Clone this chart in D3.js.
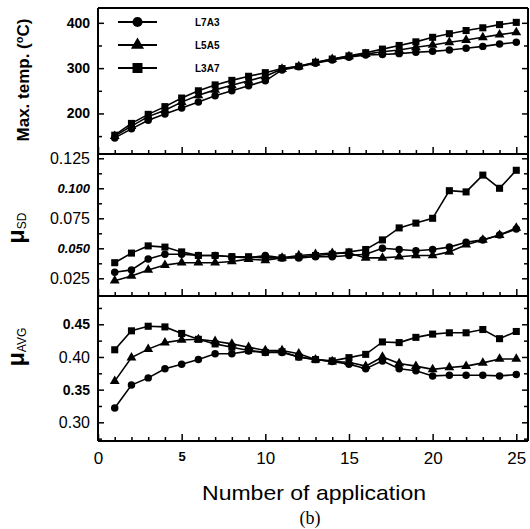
<!DOCTYPE html>
<html><head><meta charset="utf-8">
<script src="https://cdn.jsdelivr.net/npm/d3@7/dist/d3.min.js"></script>
<style>
html,body{margin:0;padding:0;background:#fff;}
svg{display:block;}
text{font-family:"Liberation Sans",Arial,sans-serif;fill:#000;}
</style></head>
<body>
<script>
// ---------- data ----------
const applications = [1,2,3,4,5,6,7,8,9,10,11,12,13,14,15,16,17,18,19,20,21,22,23,24,25];
const seriesNames = ["L7A3","L5A5","L3A7"];

const tempL7A3 = [146,166,185,199,212,225,239,250,261,272,296,303,311,318,324,329,330,332,335,337,340,344,348,353,357];
const tempL5A5 = [150,172,193,207,225,240,252,262,272,282,298,304,312,320,326,331,336,340,346,351,357,362,368,374,379];
const tempL3A7 = [152,178,198,215,234,250,263,273,282,290,299,304,313,320,327,334,342,350,358,368,376,383,389,396,401];

const sdL7A3 = [0.030,0.032,0.041,0.045,0.045,0.044,0.044,0.043,0.042,0.044,0.042,0.042,0.043,0.043,0.044,0.045,0.050,0.049,0.048,0.049,0.051,0.055,0.057,0.061,0.066];
const sdL5A5 = [0.023,0.027,0.032,0.036,0.038,0.038,0.038,0.039,0.041,0.040,0.042,0.044,0.045,0.046,0.046,0.042,0.042,0.043,0.044,0.044,0.047,0.053,0.057,0.061,0.067];
const sdL3A7 = [0.038,0.046,0.052,0.051,0.047,0.044,0.044,0.043,0.043,0.042,0.042,0.043,0.044,0.045,0.047,0.049,0.057,0.067,0.071,0.075,0.098,0.097,0.111,0.100,0.115];

const avgL7A3 = [0.322,0.357,0.368,0.382,0.389,0.396,0.405,0.405,0.409,0.407,0.407,0.400,0.396,0.393,0.389,0.382,0.394,0.382,0.379,0.371,0.372,0.372,0.372,0.371,0.373];
const avgL5A5 = [0.363,0.399,0.412,0.422,0.426,0.427,0.424,0.420,0.415,0.410,0.410,0.405,0.396,0.393,0.392,0.386,0.400,0.390,0.386,0.381,0.384,0.386,0.391,0.397,0.397];
const avgL3A7 = [0.411,0.440,0.447,0.446,0.436,0.427,0.420,0.415,0.410,0.407,0.408,0.400,0.396,0.394,0.399,0.404,0.423,0.422,0.430,0.435,0.437,0.437,0.442,0.428,0.439];

const xMajorTicks = [0,5,10,15,20,25];
const xTickLabels = ["0","5","10","15","20","25"];
const xMinorTicks = [1,2,3,4,6,7,8,9,11,12,13,14,16,17,18,19,21,22,23,24];

const tempTicks = [200,300,400];
const tempMinor = [150,250,350];
const sdTicks = [0.025,0.050,0.075,0.100,0.125];
const sdTickLabels = ["0.025","0.050","0.075","0.100","0.125"];
const sdMinor = [0.0375,0.0625,0.0875,0.1125];
const avgTicks = [0.30,0.35,0.40,0.45];
const avgTickLabels = ["0.30","0.35","0.40","0.45"];
const avgMinor = [0.275,0.325,0.375,0.425,0.475];

// ---------- layout ----------
const W = 530, H = 529;
const left = 98, right = 528;
const svg = d3.select("body").append("svg").attr("width", W).attr("height", H);
svg.append("rect").attr("width", W).attr("height", H).attr("fill", "#fff");

const x = d3.scaleLinear().domain([0, 25.7]).range([left, right]);

const panels = [
  {top: 8, bottom: 154, domain: [110.5, 432.7], series: [tempL7A3, tempL5A5, tempL3A7],
   ticks: tempTicks, labels: tempTicks.map(String), minor: tempMinor,
   lstyle: [{s:14,w:"bold",i:false},{s:14,w:"bold",i:false},{s:14,w:"bold",i:false}]},
  {top: 154, bottom: 296, domain: [0.01025, 0.12858], series: [sdL7A3, sdL5A5, sdL3A7],
   ticks: sdTicks, labels: sdTickLabels, minor: sdMinor,
   lstyle: [{s:16,w:"normal",i:false},{s:13,w:"bold",i:true},{s:16,w:"normal",i:false},{s:13,w:"bold",i:true},{s:16,w:"normal",i:false}]},
  {top: 296, bottom: 441, domain: [0.2714, 0.4933], series: [avgL7A3, avgL5A5, avgL3A7],
   ticks: avgTicks, labels: avgTickLabels, minor: avgMinor,
   lstyle: [{s:16,w:"normal",i:false},{s:14,w:"bold",i:false},{s:16,w:"normal",i:false},{s:14,w:"bold",i:false}]}
];

const symbols = [d3.symbolCircle, d3.symbolTriangle, d3.symbolSquare];
const symSize = [44, 42, 50];

panels.forEach((p, pi) => {
  const y = d3.scaleLinear().domain(p.domain).range([p.bottom, p.top]);
  const g = svg.append("g");

  // left axis major
  const la = g.append("g").attr("transform", `translate(${left},0)`)
    .call(d3.axisLeft(y).tickValues(p.ticks).tickFormat((d,i)=>p.labels[i]).tickSizeInner(-6).tickSizeOuter(0).tickPadding(8));
  la.select(".domain").remove();
  la.selectAll("line").attr("stroke","#000").attr("stroke-width",1.5);
  la.selectAll("text").attr("font-size",(d,i)=>p.lstyle[i].s).attr("font-weight",(d,i)=>p.lstyle[i].w)
    .attr("font-style",(d,i)=>p.lstyle[i].i?"italic":"normal").attr("font-family",null);
  // left axis minor
  const lm = g.append("g").attr("transform", `translate(${left},0)`)
    .call(d3.axisLeft(y).tickValues(p.minor).tickFormat("").tickSizeInner(-4).tickSizeOuter(0));
  lm.select(".domain").remove();
  lm.selectAll("line").attr("stroke","#000").attr("stroke-width",1.5);
  // right axis
  [[p.ticks,-6],[p.minor,-4]].forEach(([tv,sz]) => {
    const ra = g.append("g").attr("transform", `translate(${right},0)`)
      .call(d3.axisRight(y).tickValues(tv).tickFormat("").tickSizeInner(sz).tickSizeOuter(0));
    ra.select(".domain").remove();
    ra.selectAll("line").attr("stroke","#000").attr("stroke-width",1.5);
  });

  // bottom x axis with inward ticks
  const isLast = pi === panels.length - 1;
  const xa = g.append("g").attr("transform", `translate(0,${p.bottom})`)
    .call(d3.axisBottom(x).tickValues(xMajorTicks).tickFormat((d,i)=> isLast ? xTickLabels[i] : "")
      .tickSizeInner(-7).tickSizeOuter(0).tickPadding(11));
  xa.select(".domain").remove();
  xa.selectAll("line").attr("stroke","#000").attr("stroke-width",1.5);
  xa.selectAll("text").attr("font-family",null).attr("font-size",(d)=> d===5 ? 13 : 17)
    .attr("font-weight",(d)=> d===5 ? "bold" : "normal");
  const xm = g.append("g").attr("transform", `translate(0,${p.bottom})`)
    .call(d3.axisBottom(x).tickValues(xMinorTicks).tickFormat("").tickSizeInner(-4).tickSizeOuter(0));
  xm.select(".domain").remove();
  xm.selectAll("line").attr("stroke","#000").attr("stroke-width",1.5);

  // frame lines
  g.append("line").attr("x1",left).attr("x2",right).attr("y1",p.bottom).attr("y2",p.bottom).attr("stroke","#000").attr("stroke-width",2);
  g.append("line").attr("x1",left).attr("x2",left).attr("y1",p.top).attr("y2",p.bottom).attr("stroke","#000").attr("stroke-width",2);
  g.append("line").attr("x1",right).attr("x2",right).attr("y1",p.top).attr("y2",p.bottom).attr("stroke","#000").attr("stroke-width",2);
  if (pi === 0) g.append("line").attr("x1",left).attr("x2",right).attr("y1",p.top).attr("y2",p.top).attr("stroke","#000").attr("stroke-width",2);

  // series
  const line = d3.line().x((d,i)=>x(applications[i])).y(d=>y(d));
  p.series.forEach((vals, si) => {
    g.append("path").datum(vals).attr("d", line).attr("fill","none").attr("stroke","#000").attr("stroke-width",1.6);
    g.selectAll(null).data(vals).enter().append("path")
      .attr("d", d3.symbol().type(symbols[si]).size(symSize[si]))
      .attr("transform",(d,i)=>`translate(${x(applications[i])},${y(d)})`)
      .attr("fill","#000");
  });
});

// legend
const legendY = [22, 45, 68];
seriesNames.forEach((name, i) => {
  const lg = svg.append("g");
  lg.append("line").attr("x1",118).attr("x2",157).attr("y1",legendY[i]).attr("y2",legendY[i]).attr("stroke","#000").attr("stroke-width",1.8);
  lg.append("path").attr("d", d3.symbol().type(symbols[i]).size([80,75,100][i])).attr("transform",`translate(137.5,${legendY[i]})`).attr("fill","#000");
  lg.append("text").attr("x",195).attr("y",legendY[i]+3.5).attr("font-size",10).attr("font-weight","bold").text(name);
});

// y titles
const t1 = svg.append("text").attr("transform","translate(29,80) rotate(-90)").attr("text-anchor","middle")
  .attr("font-size",17).attr("font-weight","bold");
t1.append("tspan").text("Max. temp. (");
t1.append("tspan").attr("font-size",11).attr("dy",-6).text("o");
t1.append("tspan").attr("dy",6).text("C)");

function muLabel(sub, cy){
  const t = svg.append("text").attr("transform",`translate(24,${cy}) rotate(-90)`).attr("text-anchor","middle").attr("font-weight","bold");
  t.append("tspan").attr("font-size",23).text("μ");
  t.append("tspan").attr("font-size",12).attr("font-weight","normal").attr("dy",2).text(sub);
}
muLabel("SD", 228);
muLabel("AVG", 347);

// x title
svg.append("text").attr("x",314).attr("y",500).attr("text-anchor","middle").attr("font-size",21)
  .attr("textLength",224).attr("lengthAdjust","spacingAndGlyphs").text("Number of application");
svg.append("text").attr("x",310).attr("y",524).attr("text-anchor","middle").attr("font-size",18)
  .style("font-family","'Liberation Serif','Times New Roman',serif").text("(b)");
</script>
</body></html>
